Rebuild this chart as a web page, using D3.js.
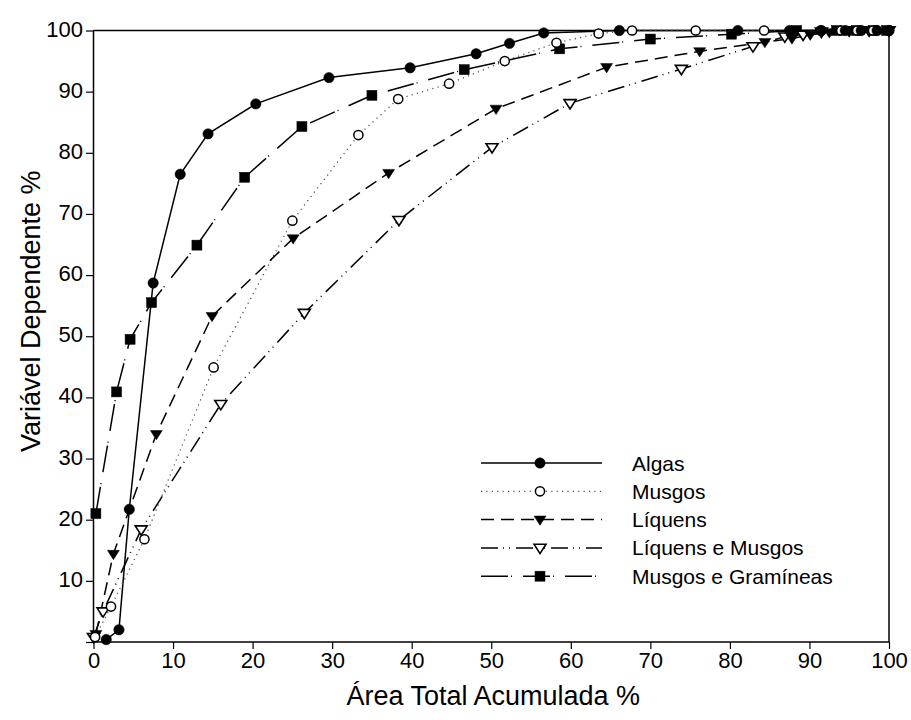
<!DOCTYPE html>
<html>
<head>
<meta charset="utf-8">
<script src="https://cdn.jsdelivr.net/npm/d3@7"></script>
<style>
  html, body { margin: 0; padding: 0; background: #fff; }
  svg { display: block; font-family: Arial, "Liberation Sans", sans-serif; }
</style>
</head>
<body>
<svg id="chart" width="911" height="720"></svg>
<script>
// Cumulative curves: x = accumulated total area (%), y = dependent variable (%)
const algasX = [1.6, 3.2, 4.5, 7.5, 10.9, 14.4, 20.4, 29.6, 39.8, 48.1, 52.3, 56.6, 66.1, 81.0, 87.5, 91.5, 94.5, 96.5, 98.5, 100];
const algasY = [0.4, 2.0, 21.7, 58.7, 76.5, 83.1, 88.0, 92.3, 93.9, 96.2, 97.9, 99.6, 100, 100, 100, 100, 100, 100, 100, 100];

const musgosX = [0.2, 2.2, 6.4, 15.1, 25.0, 33.3, 38.3, 44.7, 51.7, 58.2, 63.5, 67.7, 75.7, 84.3, 91.4, 94.0, 96.0, 98.0, 100];
const musgosY = [0.8, 5.8, 16.8, 44.9, 68.9, 82.9, 88.8, 91.3, 95.0, 98.0, 99.5, 100, 100, 100, 100, 100, 100, 100, 100];

const liquensX = [0.3, 2.5, 7.9, 14.9, 25.1, 37.1, 50.6, 64.5, 76.2, 84.4, 87.8, 90.1, 92.5, 95.0, 97.5, 100];
const liquensY = [1.3, 14.4, 34.0, 53.3, 66.0, 76.7, 87.2, 94.0, 96.6, 98.1, 98.7, 99.3, 99.7, 100, 100, 100];

const liqMusgosX = [0.0, 1.2, 6.0, 16.0, 26.5, 38.4, 50.1, 59.9, 73.9, 82.9, 86.9, 89.2, 91.5, 95.0, 97.5, 100];
const liqMusgosY = [0.8, 5.0, 18.4, 38.9, 53.8, 69.0, 80.9, 88.1, 93.7, 97.4, 99.0, 99.3, 99.8, 100, 100, 100];

const musGramX = [0.3, 2.9, 4.6, 7.3, 13.0, 19.0, 26.2, 35.0, 46.6, 58.6, 70.0, 80.2, 88.4, 93.4, 95.9, 98.0, 99.7];
const musGramY = [21.0, 40.9, 49.5, 55.5, 64.9, 76.0, 84.3, 89.4, 93.6, 97.0, 98.6, 99.4, 100, 100, 100, 100, 100];

const seriesNames = ["Algas", "Musgos", "Líquens", "Líquens e Musgos", "Musgos e Gramíneas"];

const xTicks = [0, 10, 20, 30, 40, 50, 60, 70, 80, 90, 100];
const yTicks = [10, 20, 30, 40, 50, 60, 70, 80, 90, 100];

const xTitle = "Área Total Acumulada %";
const yTitle = "Variável Dependente %";

// series table built from the arrays above
const zip = (xs, ys) => xs.map((x, i) => ({ x, y: ys[i] }));
const series = [
  { name: seriesNames[0], pts: zip(algasX, algasY),       dash: null,               marker: "circle",  fill: "#000" },
  { name: seriesNames[1], pts: zip(musgosX, musgosY),     dash: "1.2,4.2",          marker: "circle",  fill: "#fff", lineColor: "#555" },
  { name: seriesNames[2], pts: zip(liquensX, liquensY),   dash: "13,7",             marker: "triDown", fill: "#000" },
  { name: seriesNames[3], pts: zip(liqMusgosX, liqMusgosY), dash: "17,5,1,5,1,6",   marker: "triDown", fill: "#fff" },
  { name: seriesNames[4], pts: zip(musGramX, musGramY),   dash: "27,3,1,11",        marker: "square",  fill: "#000" }
];

const svg = d3.select("#chart");
const margin = { left: 93.5, right: 22, top: 30.5, bottom: 78 };
const W = 911, H = 720;
const x = d3.scaleLinear().domain([0, 100]).range([margin.left, W - margin.right]);
const y = d3.scaleLinear().domain([0, 100]).range([H - margin.bottom, margin.top]);

// frame: top and right edges
svg.append("line").attr("x1", x(0)).attr("x2", x(100)).attr("y1", y(100)).attr("y2", y(100))
  .attr("stroke", "#000").attr("stroke-width", 1.5);
svg.append("line").attr("x1", x(100)).attr("x2", x(100)).attr("y1", y(100)).attr("y2", y(0))
  .attr("stroke", "#000").attr("stroke-width", 1.5);

// axes
const xAxis = svg.append("g").attr("transform", `translate(0,${y(0)})`)
  .call(d3.axisBottom(x).tickValues(xTicks).tickSize(7).tickPadding(3).tickFormat(d3.format("d")));
const yAxis = svg.append("g").attr("transform", `translate(${x(0)},0)`)
  .call(d3.axisLeft(y).tickValues([0].concat(yTicks)).tickSize(7.5).tickPadding(3)
    .tickFormat(d => d === 0 ? "" : d));
[xAxis, yAxis].forEach(g => {
  g.select(".domain").attr("stroke", "#000").attr("stroke-width", 1.5);
  g.selectAll(".tick line").attr("stroke", "#000").attr("stroke-width", 1.2);
  g.selectAll(".tick text").attr("fill", "#000").style("font-size", "22px");
});
xAxis.select(".domain").attr("d", `M${x(0)},0H${x(100)}`);
yAxis.select(".domain").attr("d", `M0,${y(0)}V${y(100)}`);
yAxis.selectAll(".tick text").attr("dy", "0.25em");

// axis titles
svg.append("text").attr("x", (x(0) + x(100)) / 2 + 2).attr("y", 705)
  .attr("text-anchor", "middle").style("font-size", "27px").attr("fill", "#000").text(xTitle);
svg.append("text").attr("transform", `translate(40,${(y(0) + y(100)) / 2 - 25}) rotate(-90)`)
  .attr("text-anchor", "middle").style("font-size", "27px").attr("fill", "#000").text(yTitle);

// marker drawing helper
function drawMarker(g, kind, fill, cx, cy) {
  if (kind === "circle") {
    g.append("circle").attr("cx", cx).attr("cy", cy)
      .attr("r", fill === "#000" ? 5.2 : 4.6)
      .attr("fill", fill).attr("stroke", "#000").attr("stroke-width", fill === "#000" ? 0.5 : 1.5);
  } else if (kind === "square") {
    g.append("rect").attr("x", cx - 5).attr("y", cy - 5).attr("width", 10).attr("height", 10)
      .attr("fill", fill).attr("stroke", "#000").attr("stroke-width", 0.5);
  } else {
    const s = 6;
    g.append("path")
      .attr("d", `M${cx - s},${cy - s * 0.6}L${cx + s},${cy - s * 0.6}L${cx},${cy + s * 0.95}Z`)
      .attr("fill", fill).attr("stroke", "#000").attr("stroke-width", fill === "#000" ? 0.5 : 1.6)
      .attr("stroke-linejoin", "miter");
  }
}

const line = d3.line().x(d => x(d.x)).y(d => y(d.y));
const plot = svg.append("g");

series.forEach(s => {
  plot.append("path").datum(s.pts).attr("d", line)
    .attr("fill", "none").attr("stroke", s.lineColor || "#000")
    .attr("stroke-width", s.dash === "1.2,4.2" ? 1.3 : 1.5)
    .attr("stroke-dasharray", s.dash);
});
// markers drawn last so they sit above every line
[...series].reverse().forEach(s => {
  const g = plot.append("g");
  s.pts.forEach(p => drawMarker(g, s.marker, s.fill, x(p.x), y(p.y)));
});

// legend
const legend = svg.append("g");
const lx0 = 481, lx1 = 602, lmid = 540, ltext = 632, ly0 = 463, lstep = 28.3;
series.forEach((s, i) => {
  const ly = ly0 + i * lstep;
  legend.append("line").attr("x1", lx0).attr("x2", lx1).attr("y1", ly).attr("y2", ly)
    .attr("stroke", s.lineColor || "#000").attr("stroke-width", s.dash === "1.2,4.2" ? 1.3 : 1.5)
    .attr("stroke-dasharray", s.dash);
  drawMarker(legend, s.marker, s.fill, lmid, ly);
  legend.append("text").attr("x", ltext).attr("y", ly).attr("dy", "0.36em")
    .style("font-size", "21px").attr("fill", "#000").text(s.name);
});
</script>
</body>
</html>
